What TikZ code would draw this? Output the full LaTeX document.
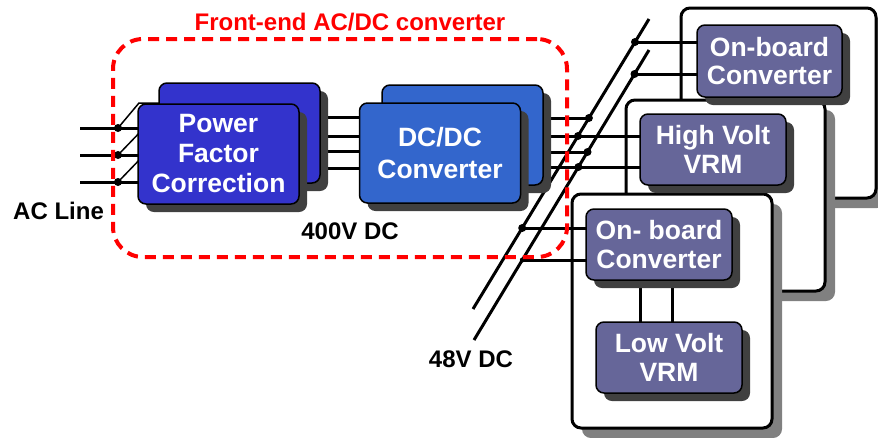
\documentclass[tikz,border=0pt]{standalone}
\usepackage{fontspec}
\setmainfont{Liberation Sans}
\usetikzlibrary{shadows}
\definecolor{pfcblue}{HTML}{3333CC}
\definecolor{dcblue}{HTML}{3366CC}
\definecolor{modpurple}{HTML}{666699}
\definecolor{shdark}{HTML}{404040}
\definecolor{shgray}{HTML}{808080}
\definecolor{fered}{HTML}{FF0000}
\begin{document}
\begin{tikzpicture}[x=1pt,y=-1pt,
  boxtext/.style={text=white, font=\bfseries\fontsize{26.5}{30}\selectfont, align=center},
  blockbox/.style={draw=black, line width=1.5pt, rounded corners=8pt, inner sep=0pt,
     drop shadow={shadow xshift=8pt, shadow yshift=-8pt, fill=shdark, opacity=1}},
  pfcbox/.style={blockbox, fill=pfcblue, minimum width=161pt, minimum height=100pt},
  dcbox/.style={blockbox, fill=dcblue, minimum width=161pt, minimum height=100pt},
  modbox/.style={blockbox, fill=modpurple, minimum width=146pt, minimum height=71pt, boxtext, font=\bfseries\fontsize{26.5}{28.5}\selectfont},
  boardbox/.style={draw=black, fill=white, line width=3pt, rounded corners=9pt, inner sep=0pt,
     drop shadow={shadow xshift=10pt, shadow yshift=-10pt, fill=shgray, opacity=1}},
  wire/.style={line width=3pt},
  thinwire/.style={line width=1.5pt},
  dotnode/.style={circle, fill=black, inner sep=0pt, minimum size=8pt},
  lbl/.style={font=\bfseries\fontsize{24}{28}\selectfont, anchor=base, inner sep=0pt},
  fedash/.style={draw=fered, line width=4pt, dash pattern=on 11pt off 7pt, rounded corners=30pt, inner sep=0pt}
]
\useasboundingbox (0,0) rectangle (878,437);

% boards
\node[boardbox, minimum width=195pt, minimum height=190pt] (board1) at (778.5,103) {};
\node[boardbox, minimum width=199pt, minimum height=191pt] (board2) at (725.5,195.5) {};
\node[boardbox, minimum width=200pt, minimum height=234pt] (board3) at (672,311) {};

% named coordinates
\coordinate (ac1) at (80,128);
\coordinate (ac2) at (80,155);
\coordinate (ac3) at (80,182);
\coordinate (acd1) at (118,128);
\coordinate (acd2) at (118,155);
\coordinate (acd3) at (118,182);
\coordinate (acb1) at (139,103);
\coordinate (acb2) at (145,127);
\coordinate (acb3) at (145,154);
\coordinate (busAs) at (473,309);
\coordinate (busAe) at (649,19);
\coordinate (busBs) at (474,340);
\coordinate (busBe) at (649,50);
\coordinate (pA1) at (635.0,42);
\coordinate (pA2) at (588.9,118);
\coordinate (pA3) at (578.0,136);
\coordinate (pA4) at (522.2,228);
\coordinate (pB1) at (634.5,74);
\coordinate (pB2) at (587.5,152);
\coordinate (pB3) at (578.4,167);
\coordinate (pB4) at (522.3,260);

% wires (drawn before blocks)
\draw[wire] (ac1) -- (acd1) -- (138,128);
\draw[wire] (ac2) -- (acd2) -- (138,155);
\draw[wire] (ac3) -- (acd3) -- (138,182);
\draw[thinwire] (acd1) -- (acb1) -- (159,103);
\draw[thinwire] (acd2) -- (acb2);
\draw[thinwire] (acd3) -- (acb3);

\draw[wire] (310,117) -- (390,117);
\draw[wire] (290,136) -- (370,136);
\draw[wire] (310,151) -- (390,151);
\draw[wire] (290,168) -- (370,168);

\draw[wire] (530,118) -- (pA2);
\draw[wire] (510,136) -- (640,136);
\draw[wire] (530,152) -- (pB2);
\draw[wire] (510,167) -- (640,167);

\draw[wire] (busAs) -- (busAe);
\draw[wire] (busBs) -- (busBe);

\draw[wire] (pA1) -- (700,42);
\draw[wire] (pB1) -- (700,74);
\draw[wire] (pA4) -- (590,228);
\draw[wire] (pB4) -- (590,260);

\draw[wire] (640,275) -- (640,326);
\draw[wire] (672,275) -- (672,326);

% blocks
\node[pfcbox] (pfcB) at (239.5,133) {};
\node[pfcbox, boxtext] (pfcF) at (218.5,154) {Power\\Factor\\Correction};
\node[dcbox] (dcB) at (462.5,135) {};
\node[dcbox, boxtext, font=\bfseries\fontsize{26.5}{32}\selectfont] (dcF) at (440,153) {DC/DC\\Converter};

\node[modbox, minimum width=145pt, minimum height=72pt] (ob1) at (769.5,61) {On-board\\Converter};
\node[modbox] (hv) at (713,149.5) {High Volt\\VRM};
\node[modbox] (ob2) at (659,244.5) {On- board\\Converter};
\node[modbox] (lv) at (669,357.5) {Low Volt\\VRM};

% dots
\foreach \p in {acd1,acd2,acd3,pA1,pA2,pA3,pA4,pB1,pB2,pB3}
  \node[dotnode] at (\p) {};
\node[dotnode, minimum size=5pt] at (pB4) {};

% front-end outline
\node[fedash, minimum width=454pt, minimum height=218pt] (fe) at (340,148) {};

% labels
\node[lbl, text=fered] (title) at (350,30) {Front-end AC/DC converter};
\node[lbl, anchor=base west] (acl) at (13,219) {AC Line};
\node[lbl] (v400) at (350,239) {400V DC};
\node[lbl] (v48) at (471,367) {48V DC};
\end{tikzpicture}
\end{document}
